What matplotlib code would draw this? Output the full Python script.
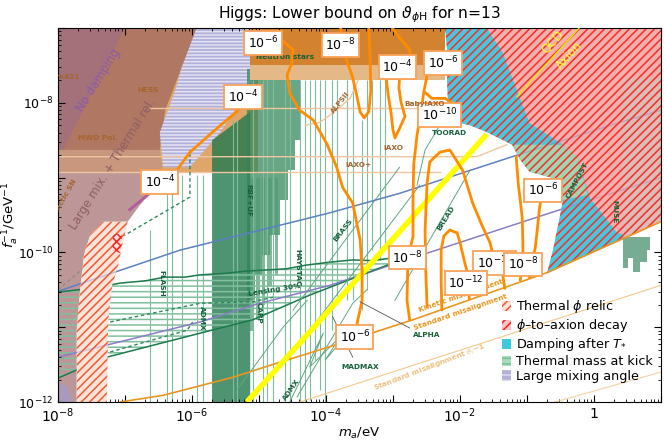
import numpy as np
import matplotlib.pyplot as plt
from matplotlib.patches import Patch
from matplotlib.ticker import LogLocator, FuncFormatter, NullFormatter

plt.rcParams['hatch.linewidth'] = 1.1

# every shape below is given as log10(m_a/eV), log10(f_a^-1/GeV^-1)

# big regions on the left
pink_m = [-8, -5.66, -5.88, -6.10, -6.33, -6.63, -6.78, -6.96, -7.33, -7.52, -7.61, -7.67, -7.72, -7.72, -8]
pink_f = [-7, -7, -7.96, -8.63, -8.93, -9.21, -9.37, -9.59, -9.59, -9.77, -10.03, -10.50, -11.04, -12, -12]
corner_m = [-8, -7.85, -7.78, -8]
corner_f = [-11.73, -11.80, -12, -12]
hess_m = [-8, -5.88, -6.15, -6.40, -6.48, -8]
hess_f = [-7, -7, -7.52, -8.10, -8.63, -8.63]
nodamp_m = [-8, -7.0, -8]
nodamp_f = [-7, -7, -8.76]
mwd_m = [-8, -6.48, -6.43, -8]
mwd_f = [-8.63, -8.63, -8.93, -8.93]
astro_m = [-6.48, -5.01, -5.01, -6.48]
astro_f = [-7, -7, -8.93, -8.93]
ns_m = [-5.13, -2.22, -2.22, -5.13]
ns_f = [-7, -7, -7.49, -7.49]
ns2_f = [-7.49, -7.49, -7.70, -7.70]
lma_m = [-5.93, -4.99, -5.01, -5.21, -5.55, -6.03, -6.43, -6.48, -6.25, -6.15]
lma_f = [-7, -7, -7.63, -7.90, -8.36, -8.86, -8.86, -8.40, -7.83, -7.52]

# thermal phi relic (hatched, left)
relic_m = [-7.33, -6.96, -7.04, -7.10, -7.19, -7.25, -7.27, -7.72, -7.72, -7.67, -7.61, -7.52]
relic_f = [-9.59, -9.59, -9.90, -10.17, -10.44, -10.90, -12, -12, -11.04, -10.50, -10.03, -9.77]
decay_small_m = [-7.18, -7.04, -7.07, -7.19]
decay_small_f = [-9.77, -9.73, -10.01, -9.97]

# haloscope fills
g1_m = [-5.70, -5.13, -5.13, -5.70]
g1_f = [-8.50, -8.12, -12, -12]
bar_lo = [-5.18, -5.06, -4.96, -4.84, -4.69, -4.57, -4.46]
bar_hi = [-5.06, -4.96, -4.84, -4.69, -4.57, -4.46, -4.39]
bar_bot = [-10.64, -10.30, -10.03, -9.77, -9.30, -8.90, -8.50]
spike_lo = [-5.13, -5.04, -4.96, -4.86, -4.76]
spike_hi = [-5.07, -4.99, -4.91, -4.80, -4.72]
spike_bot = [-11.05, -10.90, -10.70, -10.45, -10.30]

vl_m = [-6.63, -6.37, -6.30, -6.15, -5.93, -5.84, -5.39, -5.33, -5.09, -4.94, -4.88, -4.79,
        -4.61, -4.54, -4.39, -4.31, -4.24, -4.16, -4.09, -4.01, -3.91, -3.84, -3.69, -3.60,
        -3.46, -3.39, -3.31, -3.19, -3.12]
vl_top = [-9.70, -8.94, -8.97, -8.97, -8.97, -8.97, -8.23, -8.23, -7.70, -7.70, -7.70, -7.70,
          -7.70, -7.70, -7.70, -7.70, -7.70, -7.70, -7.70, -7.70, -7.70, -7.70, -7.70, -7.70,
          -8.23, -7.70, -7.70, -7.70, -7.70]
vl_bot = [-12, -12, -12, -12, -12, -12, -12, -12, -12, -12, -12, -12,
          -12, -12, -12, -12, -11.97, -11.44, -11.84, -12, -11.04, -10.64, -10.64, -10.64,
          -10.77, -10.50, -9.97, -10.10, -9.97]

# thermal mass at kick (horizontal lines)
kick_m = [-8, -7.07, -5.88, -4.99, -3.94, -2.97, -2.97, -4.24, -5.09, -5.88, -7.27, -8]
kick_f = [-10.53, -10.41, -10.30, -10.24, -10.13, -10.07, -10.13, -10.57, -10.90, -11.08, -11.40, -11.68]
up_m = [-8, -7.6, -7.3, -7.07, -6.7, -6.4, -6.1, -5.88, -5.5, -5.2, -4.99, -4.6, -4.3, -3.94, -3.6, -3.3, -2.97]
up_f = [-10.53, -10.49, -10.45, -10.41, -10.38, -10.33, -10.33, -10.30, -10.28, -10.25, -10.24,
        -10.22, -10.17, -10.13, -10.10, -10.11, -10.07]
lo_m = [-8, -7.27, -5.88, -5.09, -4.24, -2.97]
lo_f = [-11.68, -11.40, -11.08, -10.90, -10.57, -10.13]
da_m = [-7.22, -5.88, -5.09, -4.79]
da_f = [-10.93, -10.68, -10.66, -10.60]
db_m = [-7.22, -6.07, -5.99]
db_f = [-11.33, -11.04, -10.93]
dc_m = [-7.12, -6.03, -6.03]
dc_f = [-9.83, -9.26, -8.63]
gd_m = [-8, -7.12]
gd_f = [-10.50, -9.83]

blue_m = [-8, -6.18, -3.94, -2.90, -1.15, 0.39, 1.0]
blue_f = [-10.52, -9.97, -9.47, -9.21, -8.70, -8.26, -8.10]
purp_m = [-8, -5.88, -4.99, -3.94, -2.90, -0.51, 1.0]
purp_f = [-11.40, -10.93, -10.68, -10.44, -10.13, -9.43, -9.00]
magenta_m = [-6.93, -6.63]
magenta_f = [-9.43, -9.21]

# thin diagonal haloscope outlines
diag = [
    ([-4.49, -2.90], [-10.77, -8.86]),
    ([-4.24, -2.60], [-11.04, -9.10]),
    ([-2.97, -1.85], [-10.64, -8.90]),
    ([-2.64, -2.52, -2.30, -2.00], [-9.10, -8.63, -8.30, -8.23]),
    ([-5.33, -4.64, -4.28], [-11.84, -11.00, -10.64]),
    ([-4.54, -4.04, -4.24, -3.79, -4.01, -3.64], [-12, -11.08, -11.53, -11.13, -11.44, -11.04]),
    ([-4.43, -3.60, -3.39], [-11.93, -10.68, -10.50]),
]

# helioscopes
heli = [
    ([-6.63, -2.60], [-8.07, -8.07]),
    ([-8, -1.75, -1.30], [-8.72, -8.72, -8.56]),
    ([-8, -2.30], [-8.93, -8.93]),
    ([-4.31, -4.09, -3.87, -3.64, -3.52], [-8.30, -8.26, -8.12, -7.94, -7.70]),
]

# misalignment lines and QCD axion
mis_m = [-7.07, -6.43, -5.39, -4.73, -3.94, -2.70, -0.70, 1.0]
mis_f = [-12, -11.91, -11.67, -11.48, -11.26, -10.90, -10.27, -9.59]
th1_m = [-4.39, 1.0]
th1_f = [-12.0, -10.44]
th2_m = [-0.58, 1.0]
th2_f = [-12.0, -11.60]
qcd_m = [-5.18, -1.60]
qcd_f = [-12.0, -8.42]
qcd2_m = [-1.15, -0.10]
qcd2_f = [-7.92, -6.88]

# right-hand hatched regions
red_m = [-2.22, 1.1, 1.1, -0.70, -0.61, -0.51, -0.46, -0.51, -0.96, -1.10, -1.22, -1.60, -1.85,
         -2.04, -2.19, -2.18, -2.19, -2.18]
red_f = [-7.0, -7.0, -9.55, -10.28, -9.97, -9.53, -9.30, -9.03, -8.92, -8.76, -8.56, -8.39, -8.30,
         -8.26, -8.14, -7.94, -7.72, -7.40]
cyan_m = [-2.22, -1.60, -1.36, -1.15, -0.96, -0.46, -0.24, -0.06, 0.34, 0.51, -0.70, -0.61, -0.51,
          -0.46, -0.51, -0.96, -1.10, -1.22, -1.60, -1.85, -2.04, -2.19, -2.18, -2.19, -2.18]
cyan_f = [-7.0, -7.0, -7.33, -7.83, -8.27, -8.56, -8.74, -9.27, -9.73, -9.79, -10.28, -9.97, -9.53,
          -9.30, -9.03, -8.92, -8.76, -8.56, -8.39, -8.30, -8.26, -8.14, -7.94, -7.72, -7.40]
kick2_m = [-1.22, -0.46, -0.24, -0.09, -0.46, -0.51, -0.96, -1.10]
kick2_f = [-8.56, -8.56, -8.74, -9.23, -9.30, -9.03, -8.92, -8.76]
muse_m = [0.43, 1.1, 1.1, 0.43]
muse_f = [-7.67, -7.67, -9.55, -9.82]
mbar_lo = [0.43, 0.51, 0.58, 0.69, 0.79]
mbar_hi = [0.51, 0.58, 0.69, 0.79, 0.84]
mbar_bot = [-10.21, -10.07, -10.26, -10.13, -9.97]

# contours of the lower bound
contours = [
    ([-6.48, -6.25, -6.03, -5.69, -5.31, -5.24], [-9.06, -8.93, -8.66, -8.39, -8.10, -7.92]),
    ([-4.94, -4.66, -4.49, -4.51, -4.58, -4.54, -4.39, -4.19, -3.99, -3.84, -3.75, -3.60, -3.49,
      -3.46, -3.46, -3.54, -3.57],
     [-7.20, -7.16, -7.29, -7.47, -7.63, -7.87, -8.10, -8.23, -8.54, -8.86, -9.13, -9.34, -9.83,
      -10.24, -10.64, -10.97, -11.13]),
    ([-3.78, -3.72, -3.61, -3.54, -3.49, -3.43, -3.36, -3.33, -3.34, -3.36],
     [-7.0, -7.36, -7.63, -7.90, -8.12, -8.20, -8.12, -7.83, -7.43, -7.0]),
    ([-3.01, -2.90, -2.75, -2.72, -2.93, -3.10, -3.07, -3.03, -3.00, -2.97, -2.90, -2.82, -2.88, -2.91, -2.90],
     [-7.0, -7.13, -7.29, -7.45, -7.52, -7.67, -7.90, -8.12, -8.36, -8.47, -8.34, -8.18, -7.99, -7.80, -7.63]),
    ([-2.25, -2.49, -2.54, -2.58, -2.64, -2.69, -2.70, -2.70, -2.75, -2.78, -2.78, -2.79, -2.75],
     [-7.47, -7.63, -7.86, -8.12, -8.43, -8.83, -9.30, -9.79, -9.97, -10.09, -10.24, -10.64, -10.90]),
    ([-2.49, -2.51, -2.52, -2.49, -2.45, -2.30, -2.15, -1.96, -1.81, -1.66, -1.55, -1.48, -1.36, -1.33],
     [-10.73, -10.24, -9.70, -9.07, -8.79, -8.66, -8.63, -8.90, -9.34, -9.66, -9.87, -10.14, -10.30, -10.48]),
    ([-2.27, -2.28, -2.28, -2.24, -2.15, -2.04, -1.99, -1.93, -1.88, -1.86],
     [-10.77, -10.37, -9.97, -9.78, -9.70, -9.74, -9.90, -10.13, -10.30, -10.62]),
    ([-1.16, -1.13, -1.07, -1.06, -1.06, -1.10], [-8.72, -9.07, -9.53, -9.87, -10.16, -10.37]),
    ([-0.76, -0.81, -0.85, -0.88, -0.96, -0.96], [-9.17, -9.39, -9.74, -9.97, -10.13, -10.34]),
    ([-2.52, -2.42, -2.22, -2.07], [-7.86, -7.94, -7.94, -8.03]),
]
lab_m = [-4.94, -3.78, -5.24, -6.48, -2.93, -2.25, -2.30, -0.76, -2.78, -1.48, -1.06, -1.91, -3.57]
lab_f = [-7.20, -7.23, -7.92, -9.06, -7.52, -7.47, -8.16, -9.17, -10.07, -10.14, -10.16, -10.41, -11.13]
lab_e = [-6, -8, -4, -4, -4, -6, -10, -6, -8, -10, -8, -12, -6]


def E(a):
    return 10.0 ** np.asarray(a, dtype=float)


fig = plt.figure(figsize=(6.64, 4.41), dpi=100)
ax = fig.add_axes([0.0873, 0.0884, 0.908, 0.848])
ax.set_xscale('log')
ax.set_yscale('log')


def region(m, f, **kw):
    ax.fill(E(m), E(f), lw=0, **kw)


region(pink_m, pink_f, facecolor='#bd9797', zorder=1.0)
region(corner_m, corner_f, facecolor='#a99abd', zorder=1.01)
region(astro_m, astro_f, facecolor='#dea66a', zorder=1.02)
region(hess_m, hess_f, facecolor='#b07862', zorder=1.03)
region(nodamp_m, nodamp_f, facecolor='#a4707a', zorder=1.04)
region(mwd_m, mwd_f, facecolor='#c8977e', zorder=1.05)
region(lma_m, lma_f, facecolor='#b3b1da', edgecolor='#e2e2f2', hatch='-----', zorder=1.1)

region(g1_m, g1_f, facecolor='#237a4f', alpha=0.8, zorder=1.2)
for a, b, c in zip(bar_lo, bar_hi, bar_bot):
    region([a, b, b, a], [c, c, -7.55, -7.55], facecolor='#2f8458', alpha=0.72, zorder=1.2)
for a, b, c in zip(spike_lo, spike_hi, spike_bot):
    region([a, b, b, a], [c, c, -9.0, -9.0], facecolor='#4f9a74', alpha=0.7, zorder=1.2)
ax.vlines(E(vl_m), E(vl_bot), E(vl_top), color='#7dbd9c', lw=0.8, zorder=1.25)

region(ns_m, ns_f, facecolor='#d3822f', zorder=1.3)
region(ns_m, ns2_f, facecolor='#e4b887', zorder=1.3)
for m, f in heli:
    ax.plot(E(m), E(f), color='#efc6a0', lw=1.0, zorder=1.35)

region(kick_m, kick_f, facecolor='none', edgecolor='#80c09d', hatch='---', zorder=1.4)
ax.plot(E(blue_m), E(blue_f), color='#5b80c4', lw=1.0, zorder=1.5)
ax.plot(E(purp_m), E(purp_f), color='#8b7cc8', lw=1.0, zorder=1.5)
ax.plot(E(up_m), E(up_f), color='#1c7a4c', lw=1.1, zorder=1.5)
ax.plot(E(lo_m), E(lo_f), color='#1c7a4c', lw=1.1, zorder=1.5)
for m, f in [(da_m, da_f), (db_m, db_f), (dc_m, dc_f)]:
    ax.plot(E(m), E(f), color='#2e8a5c', lw=1.0, ls=(0, (2.5, 2)), zorder=1.5)
ax.plot(E(gd_m), E(gd_f), color='#8c8c8c', lw=1.0, ls=(0, (2.5, 2)), zorder=1.5)
for m, f in diag:
    ax.plot(E(m), E(f), color='#5fa583', lw=0.7, zorder=1.5)

region(relic_m, relic_f, facecolor='#fde3d8', edgecolor='#f15a36', hatch='////', zorder=1.6)
region(decay_small_m, decay_small_f, facecolor='none', edgecolor='#ff2020', hatch='xxxx', zorder=1.61)
ax.plot(E(magenta_m), E(magenta_f), color='#b35a9c', lw=2, zorder=1.62)

region(red_m, red_f, facecolor='#f1b1ad', zorder=2.0)
region(cyan_m, cyan_f, facecolor='#45c8dd', zorder=2.01)
region(kick2_m, kick2_f, facecolor='#9fd6b2', zorder=2.02)
region(muse_m, muse_f, facecolor='#d9bdb8', zorder=2.03)
ax.plot(E(blue_m), E(blue_f), color='#5b80c4', lw=1.0, alpha=0.35, zorder=2.04)
ax.plot(E(purp_m), E(purp_f), color='#8b7cc8', lw=1.0, alpha=0.35, zorder=2.04)
region(red_m, red_f, facecolor='none', edgecolor='#ff2a2a', hatch='////', zorder=2.05)
for a, b, c in zip(mbar_lo, mbar_hi, mbar_bot):
    region([a, b, b, a], [c, c, -9.80, -9.80], facecolor='#5f9e80', alpha=0.85, zorder=2.06)

ax.plot(E(mis_m), E(mis_f), color='#e8961e', lw=1.2, zorder=2.5)
ax.plot(E(th1_m), E(th1_f), color='#f3c98c', lw=0.8, zorder=2.5)
ax.plot(E(th2_m), E(th2_f), color='#f3d3a8', lw=0.8, zorder=2.5)
ax.plot(E(qcd_m), E(qcd_f), color='#ffff00', lw=4, zorder=2.6, solid_capstyle='butt')
ax.plot(E(qcd2_m), E(qcd2_f), color='#e8e800', lw=1.0, zorder=2.6)

for m, f in contours:
    ax.plot(E(m), E(f), color='#ff8c00', lw=2, zorder=3, solid_capstyle='round')

green = dict(color='#17603b', fontsize=5.3, fontweight='bold', ha='center', va='center', zorder=4)
brown = dict(color='#a5652c', fontsize=5.3, fontweight='bold', ha='center', va='center', zorder=4)
orng = dict(color='#e8961e', fontsize=5.3, fontweight='bold', ha='center', va='center', zorder=4)

ax.text(E(-4.61), E(-7.39), 'Neutron stars', **green)
ax.text(E(-6.66), E(-7.83), 'HESS', **brown)
ax.text(E(-7.40), E(-8.47), 'MWD Pol.', **brown)
ax.text(E(-7.67), E(-7.66), 'Mrk421', clip_on=True, **{**brown, 'ha': 'right'})
ax.text(E(-7.92), E(-9.30), 'Galactic SN', rotation=60, clip_on=True, **brown)
ax.text(E(-3.79), E(-8.00), 'ALPSII', rotation=52, **brown)
ax.text(E(-3.00), E(-8.60), 'IAXO', **brown)
ax.text(E(-3.52), E(-8.83), 'IAXO+', **brown)
ax.text(E(-2.52), E(-8.02), 'BabyIAXO', **{**brown, 'zorder': 6})
ax.text(E(-2.15), E(-8.40), 'TOORAD', **green)
ax.text(E(-3.75), E(-9.70), 'BRASS', rotation=52, **green)
ax.text(E(-2.21), E(-9.54), 'BREAD', rotation=58, **green)
ax.text(E(-5.16), E(-9.30), 'RBF+UF', rotation=-90, **green)
ax.text(E(-4.42), E(-10.21), 'HAYSTAC', rotation=-90, **green)
ax.text(E(-6.45), E(-10.42), 'FLASH', rotation=-90, **green)
ax.text(E(-5.85), E(-10.88), 'ADMX', rotation=-90, **green)
ax.text(E(-5.01), E(-10.81), 'CAPP', rotation=-90, **green)
ax.text(E(-4.76), E(-10.50), 'Lensing 30%', rotation=9, **green)
ax.text(E(-4.52), E(-11.84), 'ADMX', rotation=55, **green)
ax.text(E(-3.49), E(-11.53), 'MADMAX', **green)
ax.text(E(-2.49), E(-11.10), 'ALPHA', **green)
ax.text(E(-0.25), E(-9.03), 'CAMPOST', rotation=62, **green)
ax.text(E(0.31), E(-9.46), 'MUSE', rotation=-90, **green)
ax.plot(E([-2.75, -3.49]), E([-11.01, -10.66]), color='#555555', lw=0.6, zorder=3.9)
ax.plot(E([-3.60, -3.90]), E([-11.40, -10.86]), color='#555555', lw=0.6, zorder=3.9)

ax.text(E(-1.99), E(-10.58), 'Kinetic misalignment', rotation=19, **orng)
ax.text(E(-1.99), E(-10.80), 'Standard misalignment', rotation=19, **orng)
ax.text(E(-2.45), E(-11.55), r'Standard misalignment $\theta_i$~1', rotation=21,
        **{**orng, 'color': '#f0c080'})
ax.text(E(-0.61), E(-7.19), 'QCD', rotation=48, color='#ffff30', fontsize=8.5,
        ha='center', va='center', zorder=4)
ax.text(E(-0.36), E(-7.36), 'Axion', rotation=48, color='#ffff30', fontsize=8.5,
        ha='center', va='center', zorder=4)
ax.text(E(-7.40), E(-7.70), 'No damping', rotation=58, color='#8a5ca8', fontsize=8.5,
        ha='center', va='center', zorder=4)
ax.text(E(-7.18), E(-8.82), 'Large mix. + Thermal rel.', rotation=58, color='#8d5e66',
        fontsize=8.5, ha='center', va='center', zorder=4)

for m, f, e in zip(lab_m, lab_f, lab_e):
    ax.text(E(m), E(f), r'$10^{%d}$' % e, fontsize=9, ha='center', va='center', zorder=5,
            bbox=dict(boxstyle='square,pad=0.28', fc='white', ec='#f8a258', lw=1.3))

handles = [
    Patch(facecolor='#fde3d8', edgecolor='#f15a36', hatch='////', lw=0, label=r'Thermal $\phi$ relic'),
    Patch(facecolor='#f6c4c4', edgecolor='#ff1a1a', hatch='////', lw=0, label=r'$\phi$–to–axion decay'),
    Patch(facecolor='#3fc9de', lw=0, label=r'Damping after $T_{*}$'),
    Patch(facecolor='#a8dcba', edgecolor='#79bf98', hatch='---', lw=0, label='Thermal mass at kick'),
    Patch(facecolor='#b3b1da', edgecolor='#dcdcf0', hatch='---', lw=0, label='Large mixing angle'),
]
leg = ax.legend(handles=handles, loc='lower right', bbox_to_anchor=(1.0, 0.03), frameon=False,
                fontsize=9.2, handlelength=0.7, handleheight=0.9, handletextpad=0.4,
                labelspacing=0.15, borderaxespad=0.2)
leg.set_zorder(10)

ax.set_xlim(1e-8, 1e1)
ax.set_ylim(1e-12, 1e-7)


def dec_fmt(v, pos):
    e = int(round(np.log10(v)))
    if e % 2:
        return ''
    return '1' if e == 0 else r'$10^{%d}$' % e


for axis in (ax.xaxis, ax.yaxis):
    axis.set_major_locator(LogLocator(base=10, numticks=30))
    axis.set_minor_locator(LogLocator(base=10, subs=np.arange(2, 10), numticks=30))
    axis.set_major_formatter(FuncFormatter(dec_fmt))
    axis.set_minor_formatter(NullFormatter())
ax.tick_params(which='both', direction='in', top=True, right=True)
ax.tick_params(axis='x', labelsize=10)
ax.tick_params(axis='y', labelsize=9, pad=3)
ax.tick_params(which='major', length=5, width=0.8)
ax.tick_params(which='minor', length=2.5, width=0.6)

ax.set_xlabel(r'$m_a$/eV', fontsize=9.5, labelpad=0)
ax.set_ylabel(r'$f_a^{-1}$/GeV$^{-1}$', fontsize=9.5)
ax.yaxis.set_label_coords(-0.061, 0.5)
ax.set_title(r'Higgs: Lower bound on $\vartheta_{\phi\mathrm{H}}$ for n=13', fontsize=11.2, pad=7)

fig.savefig('out.png', dpi=100)
